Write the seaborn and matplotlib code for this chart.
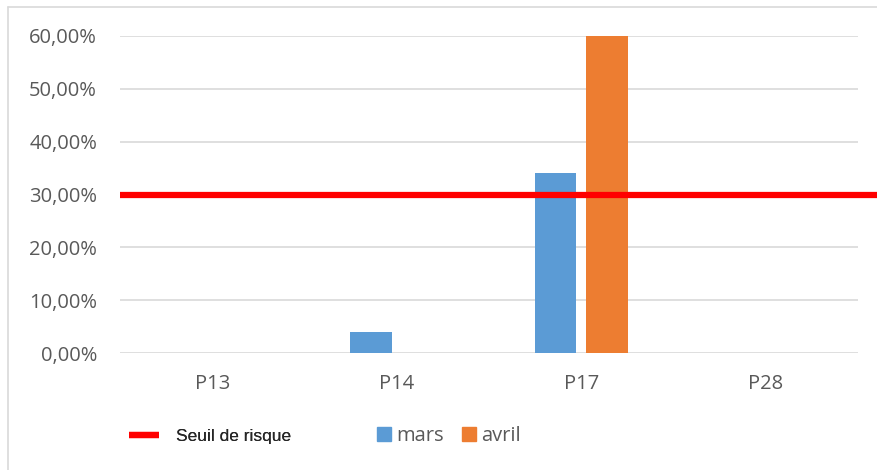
import numpy as np
import pandas as pd
import matplotlib.pyplot as plt
from matplotlib.lines import Line2D
from matplotlib.patches import Patch
from matplotlib.ticker import FuncFormatter
import seaborn as sns

# data
categories = ["P13", "P14", "P17", "P28"]
mars = [0.0, 0.04, 0.34, 0.0]
avril = [0.0, 0.0, 0.60, 0.0]
seuil = 0.30

colors = {"mars": "#5B9BD5", "avril": "#ED7D31"}
grey = "#595959"

df = pd.DataFrame({
    "poste": categories * 2,
    "mois": ["mars"] * len(categories) + ["avril"] * len(categories),
    "taux": mars + avril,
})

sns.set_theme(style="white")
plt.rcParams["font.family"] = ["Open Sans", "DejaVu Sans"]

fig = plt.figure(figsize=(8.77, 4.70), dpi=100)
ax = fig.add_axes([120 / 877, 1 - 353 / 470, 738 / 877, 317 / 470])

sns.barplot(data=df, x="poste", y="taux", hue="mois", palette=colors,
            width=0.56, gap=0.2, linewidth=0, saturation=1, legend=False, ax=ax)

ax.set_ylim(0, 0.6)
ax.set_yticks(np.arange(0, 0.61, 0.1))
ax.yaxis.set_major_formatter(FuncFormatter(lambda v, _: f"{v * 100:.2f}%".replace(".", ",")))
ax.grid(axis="y", color="#D9D9D9", linewidth=1.2)
ax.set_axisbelow(True)
for s in ax.spines.values():
    s.set_visible(False)
ax.set_xlabel("")
ax.set_ylabel("")
ax.tick_params(axis="y", labelsize=14.5, colors=grey, pad=16.5, length=0)
ax.tick_params(axis="x", labelsize=14.5, colors=grey, pad=15, length=0)

# risk threshold, runs past the plot area to the right edge
ax.axhline(seuil, xmin=0, xmax=(877 - 120) / 738, color="#FF0000", linewidth=4.5,
           solid_capstyle="butt", clip_on=False, zorder=5)

# frame of the chart area
fig.add_artist(Line2D([8 / 877, 8 / 877], [0, 1 - 7 / 470], color="#D9D9D9", linewidth=1.2))
fig.add_artist(Line2D([8 / 877, 1], [1 - 7 / 470, 1 - 7 / 470], color="#D9D9D9", linewidth=1.2))

# legends
leg1 = fig.legend(handles=[Line2D([], [], color="#FF0000", linewidth=4.5, solid_capstyle="butt")],
                  labels=["Seuil de risque"], loc="center left",
                  bbox_to_anchor=(113 / 877, 1 - 436 / 470), frameon=False,
                  handlelength=1.75, handletextpad=0.95,
                  prop={"family": "Liberation Sans", "size": 12.5})
fig.legend(handles=[Patch(color=colors["mars"]), Patch(color=colors["avril"])],
           labels=["mars", "avril"], loc="center left",
           bbox_to_anchor=(359 / 877, 1 - 436 / 470), frameon=False, ncol=2,
           handlelength=0.7, handleheight=0.7, handletextpad=0.25, columnspacing=0.9,
           labelcolor=grey, prop={"size": 14.5})
fig.add_artist(leg1)

fig.savefig("out.png", dpi=100)
